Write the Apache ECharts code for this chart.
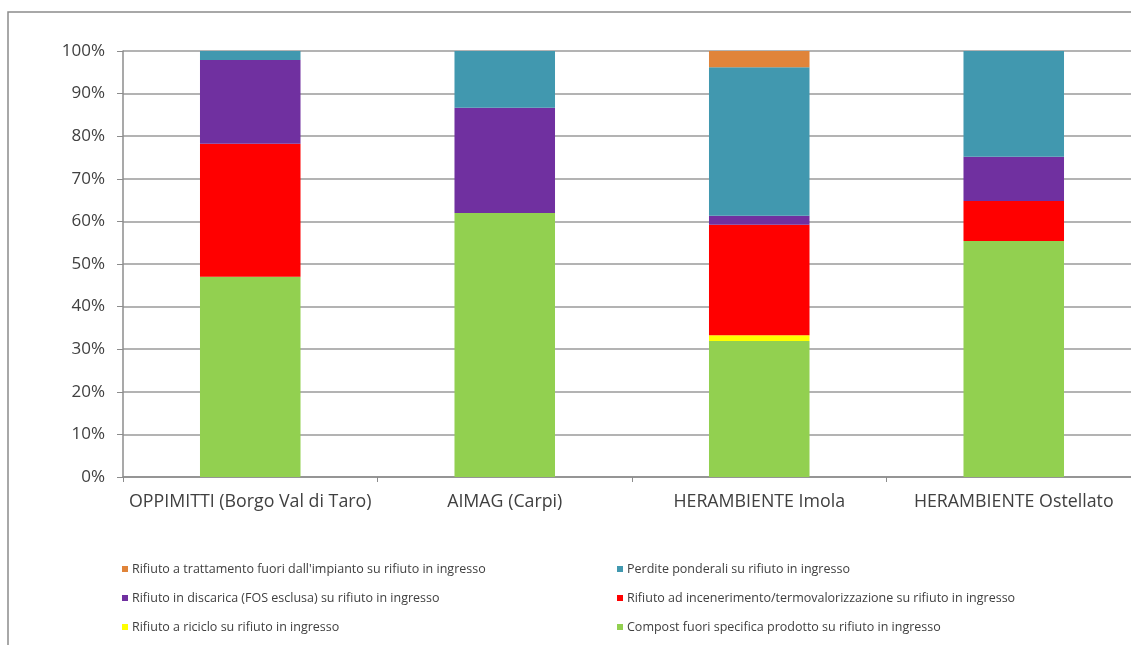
<!DOCTYPE html>
<html><head><meta charset="utf-8">
<script src="https://cdn.jsdelivr.net/npm/echarts@6/dist/echarts.min.js"></script>
<style>html,body{margin:0;padding:0;background:#fff}#c{width:1131px;height:645px}</style>
</head><body><div id="c"></div>
<script>
const categories = ['OPPIMITTI (Borgo Val di Taro)', 'AIMAG (Carpi)', 'HERAMBIENTE Imola', 'HERAMBIENTE Ostellato'];
const compost = [47.0, 62.0, 31.9, 55.4];
const riciclo = [0, 0, 1.4, 0];
const incenerimento = [31.2, 0, 25.9, 9.4];
const discarica = [19.7, 24.7, 2.1, 10.4];
const perdite = [2.1, 13.3, 34.9, 24.8];
const trattamento = [0, 0, 3.8, 0];
const yTicks = [0, 10, 20, 30, 40, 50, 60, 70, 80, 90, 100];

const names = {
  tr: "Rifiuto a trattamento fuori dall'impianto su rifiuto in ingresso",
  pe: 'Perdite ponderali su rifiuto in ingresso',
  di: 'Rifiuto in discarica (FOS esclusa) su rifiuto in ingresso',
  in: 'Rifiuto ad incenerimento/termovalorizzazione su rifiuto in ingresso',
  ri: 'Rifiuto a riciclo su rifiuto in ingresso',
  co: 'Compost fuori specifica prodotto su rifiuto in ingresso'
};
const font = '"Open Sans", sans-serif';
function s(name, data, color) {
  return { name, type: 'bar', stack: 't', data, barWidth: '39.5%', itemStyle: { color }, emphasis: { disabled: true } };
}
const legendText = { fontSize: 12.5, lineHeight: 14, color: '#404040', fontFamily: font, padding: [0, 0, 0, -1] };
const chart = echarts.init(document.getElementById('c'));
chart.setOption({
  animation: false,
  textStyle: { fontFamily: font },
  graphic: [{ type: 'rect', shape: { x: 8, y: 12, width: 1200, height: 700 }, style: { fill: 'none', stroke: '#8c8c8c', lineWidth: 1.5 }, silent: true }],
  grid: { left: 123, top: 51, width: 1018, height: 426, outerBoundsMode: 'none', containLabel: false },
  legend: [
    { orient: 'vertical', left: 117, top: 557, itemGap: 15, itemWidth: 6, itemHeight: 6, icon: 'rect',
      textStyle: legendText, data: [names.tr, names.di, names.ri] },
    { orient: 'vertical', left: 612, top: 557, itemGap: 15, itemWidth: 6, itemHeight: 6, icon: 'rect',
      textStyle: legendText, data: [names.pe, names.in, names.co] }
  ],
  xAxis: {
    type: 'category', data: categories,
    axisLine: { lineStyle: { color: '#8c8c8c', width: 1.5 } },
    axisTick: { show: true, length: 5, interval: 0, lineStyle: { color: '#8c8c8c' } },
    axisLabel: { fontSize: 17.8, color: '#404040', margin: 16, interval: 0, hideOverlap: false, fontFamily: font }
  },
  yAxis: {
    type: 'value', min: 0, max: 100, interval: 10,
    axisLine: { show: true, lineStyle: { color: '#8c8c8c', width: 1.5 } },
    axisTick: { show: true, length: 6, lineStyle: { color: '#8c8c8c' } },
    splitLine: { lineStyle: { color: '#9a9a9a', width: 1.5 } },
    axisLabel: { fontSize: 17, color: '#404040', margin: 18, fontFamily: font,
      formatter: v => yTicks.includes(v) ? v + '%' : '' }
  },
  series: [
    s(names.co, compost, '#92D050'),
    s(names.ri, riciclo, '#FFFF00'),
    s(names.in, incenerimento, '#FF0000'),
    s(names.di, discarica, '#7030A0'),
    s(names.pe, perdite, '#4198AF'),
    s(names.tr, trattamento, '#E0843A')
  ]
});
</script></body></html>
